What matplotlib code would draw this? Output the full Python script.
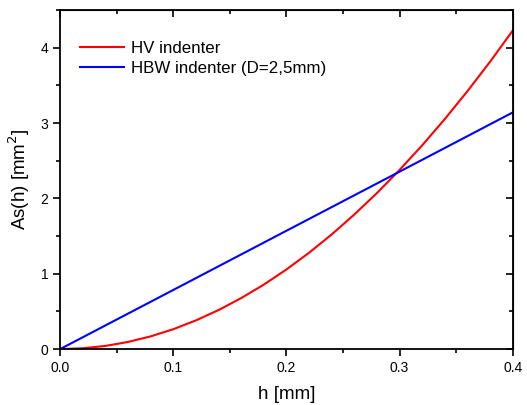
import matplotlib.pyplot as plt
from matplotlib.ticker import MultipleLocator

plt.rcParams['font.family'] = ['Liberation Sans', 'DejaVu Sans']

# values
h_hv = [0.00, 0.02, 0.04, 0.06, 0.08, 0.10, 0.12, 0.14, 0.16, 0.18, 0.20,
        0.22, 0.24, 0.26, 0.28, 0.30, 0.32, 0.34, 0.36, 0.38, 0.40]
as_hv = [0.0, 0.011, 0.042, 0.095, 0.169, 0.264, 0.381, 0.518, 0.677, 0.856, 1.057,
         1.279, 1.522, 1.787, 2.072, 2.379, 2.706, 3.055, 3.425, 3.816, 4.229]
h_hbw = [0.0, 0.1, 0.2, 0.3, 0.4]
as_hbw = [0.0, 0.785, 1.571, 2.356, 3.142]

fig = plt.figure(figsize=(5.27, 4.05), dpi=100)
ax = fig.add_axes([0.114, 0.138, 0.859, 0.837])

ax.plot(h_hv, as_hv, color='red', lw=1.5, label='HV indenter')
ax.plot(h_hbw, as_hbw, color='blue', lw=1.5, label='HBW indenter (D=2,5mm)')

ax.set_xlim(0, 0.4)
ax.set_ylim(0, 4.5)
ax.xaxis.set_major_locator(MultipleLocator(0.1))
ax.xaxis.set_minor_locator(MultipleLocator(0.05))
ax.yaxis.set_major_locator(MultipleLocator(1))
ax.yaxis.set_minor_locator(MultipleLocator(0.5))
ax.xaxis.set_major_formatter(plt.FormatStrFormatter('%.1f'))

ax.tick_params(which='both', direction='out', labelsize=10, width=1.2)
ax.tick_params(which='major', length=5)
ax.tick_params(which='minor', length=3)
for s in ax.spines.values():
    s.set_linewidth(1.3)

# inward ticks on top and right, no labels
top = ax.secondary_xaxis('top')
top.xaxis.set_major_locator(MultipleLocator(0.1))
top.xaxis.set_minor_locator(MultipleLocator(0.05))
top.tick_params(which='both', direction='in', labeltop=False, width=1.2)
top.tick_params(which='major', length=5)
top.tick_params(which='minor', length=3)
right = ax.secondary_yaxis('right')
right.yaxis.set_major_locator(MultipleLocator(1))
right.yaxis.set_minor_locator(MultipleLocator(0.5))
right.tick_params(which='both', direction='in', labelright=False, width=1.2)
right.tick_params(which='major', length=5)
right.tick_params(which='minor', length=3)

ax.set_xlabel('h [mm]', fontsize=13.5, labelpad=8)
ax.set_ylabel('As(h) [mm$^2$]', fontsize=13.5, labelpad=6)

ax.legend(loc='upper left', frameon=False, fontsize=12.2, handlelength=2.6,
          handletextpad=0.4, labelspacing=0.3, borderpad=0, borderaxespad=0,
          bbox_to_anchor=(0.044, 0.909))

fig.savefig('out.png', dpi=100)
